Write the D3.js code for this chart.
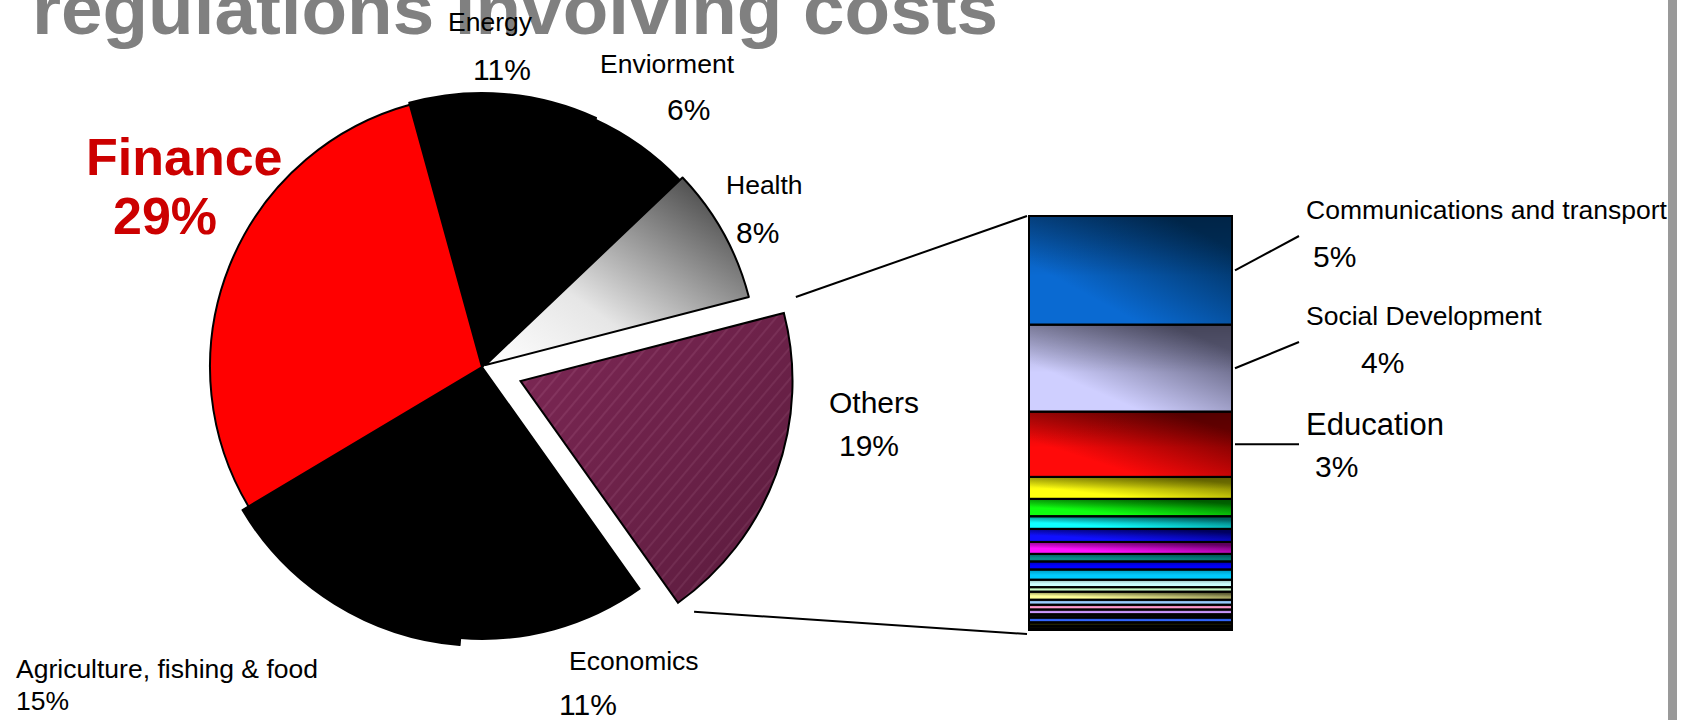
<!DOCTYPE html>
<html>
<head>
<meta charset="utf-8">
<script src="https://cdn.jsdelivr.net/npm/d3@7/dist/d3.min.js"></script>
<style>
  html, body { margin: 0; padding: 0; background: #ffffff; }
  svg { display: block; }
  text { font-family: "Liberation Sans", Arial, sans-serif; }
</style>
</head>
<body>
<svg id="chart" width="1682" height="720"></svg>
<script>
// Share of regulations involving costs, by policy area (%)
const pieLabels = ["Energy", "Enviorment", "Health", "Others", "Economics", "Agriculture, fishing & food", "Finance"];
const pieValues = [11, 6, 8, 19, 11, 15, 29];

// Breakdown of "Others" (%), top to bottom of the stacked column
const barLabels = ["Communications and transport", "Social Development", "Education"];
const barValues = [5, 4, 3, 1.01, 0.80, 0.58, 0.60, 0.55, 0.35, 0.37, 0.47, 0.34, 0.21, 0.37, 0.23, 0.22, 0.22, 0.15, 0.22, 0.17, 0.11, 0.07];

const titleText = "regulations involving costs";

// ---------- styles / layout ----------
const W = 1682, H = 720;
const svg = d3.select("#chart");
const defs = svg.append("defs");

const cx = 482, cy = 367, R = 272;
const startDeg = -15.4;
const explode = [0, 0, 4, 41, 0, 0, 0];          // px pulled out per slice
const extraR = [2, 0, 0, 0, 0, 7, 0];            // slight over-size per slice
const pieFill = ["#000000", "#000000", "url(#healthGrad)", "url(#othersHatch)", "#000000", "#000000", "#ff0000"];
const othersIndex = 3;

const barColors = [
  ["#0a6ad2", "#00305e"], ["#cfcfff", "#5c5c78"], ["#ff0a0a", "#700000"],
  ["#ffff10", "#7a7a00"], ["#10ff10", "#007000"], ["#10ffff", "#007070"],
  ["#1010ff", "#000070"], ["#ff10ff", "#700070"], ["#0a8a8a", "#006a6a"],
  ["#0000ff", "#0000f0"], ["#00ccff", "#00c8fa"], ["#ccffff", "#c8fafa"],
  ["#ccffcc", "#c8fac8"], ["#ffff99", "#6e6e40"], ["#99ccff", "#96c8fa"],
  ["#ff99cc", "#fa96c8"], ["#cc99ff", "#c896fa"], ["#111111", "#000000"],
  ["#3366ff", "#3064f8"], ["#222200", "#111100"], ["#333300", "#222200"],
  ["#111100", "#000000"]
];
const barX0 = 1029, barX1 = 1232, barTop = 216, barBottom = 630;
const labelStyle = { name: 26.5, pct: 30 };

// name / percent label positions for the pie (left x, baseline y)
const pieLabelPos = [
  { n: [448, 31], p: [473, 80] },
  { n: [600, 73], p: [667, 120] },
  { n: [726, 194], p: [736, 243] },
  { n: [829, 413], p: [839, 456], ns: 30 },
  { n: [569, 670], p: [559, 715] },
  { n: [16, 678], p: [16, 710], small: true },
  { n: [86, 175], p: [113, 234], finance: true }
];
// label anchors for the column breakdown
const barLabelPos = [
  { end: [1299, 236], n: [1306, 219], p: [1313, 267], ns: 26.5, ps: 30 },
  { end: [1299, 342], n: [1306, 325], p: [1361, 373], ns: 26.5, ps: 30 },
  { end: [1299, null], n: [1306, 435], p: [1315, 477], ns: 31, ps: 30 }
];

// ---------- gradients & patterns ----------
const hg = defs.append("linearGradient").attr("id", "healthGrad")
  .attr("x1", 0).attr("y1", 1).attr("x2", 1).attr("y2", 0);
hg.append("stop").attr("offset", 0).attr("stop-color", "#ffffff");
hg.append("stop").attr("offset", 0.35).attr("stop-color", "#e6e6e6");
hg.append("stop").attr("offset", 1).attr("stop-color", "#2e2e2e");

const og = defs.append("linearGradient").attr("id", "othersGrad")
  .attr("x1", 0).attr("y1", 0).attr("x2", 1).attr("y2", 1);
og.append("stop").attr("offset", 0).attr("stop-color", "#8e2e62");
og.append("stop").attr("offset", 1).attr("stop-color", "#461430");

const pat = defs.append("pattern").attr("id", "othersHatch")
  .attr("patternUnits", "userSpaceOnUse").attr("width", 10).attr("height", 10)
  .attr("patternTransform", "rotate(40)");
pat.append("rect").attr("width", 10).attr("height", 10).attr("fill", "#6e2249");
pat.append("line").attr("x1", 5).attr("y1", 0).attr("x2", 5).attr("y2", 10)
  .attr("stroke", "#e8b0cc").attr("stroke-opacity", 0.4).attr("stroke-width", 1);

const shade = defs.append("linearGradient").attr("id", "topShade")
  .attr("x1", 0).attr("y1", 0).attr("x2", 0).attr("y2", 1);
shade.append("stop").attr("offset", 0).attr("stop-color", "#000").attr("stop-opacity", 0.25);
shade.append("stop").attr("offset", 0.55).attr("stop-color", "#000").attr("stop-opacity", 0);

barColors.forEach((c, i) => {
  const g = defs.append("linearGradient").attr("id", "seg" + i)
    .attr("x1", 0).attr("y1", 1).attr("x2", 1).attr("y2", 0);
  g.append("stop").attr("offset", 0).attr("stop-color", c[0]);
  g.append("stop").attr("offset", 0.28).attr("stop-color", c[0]);
  g.append("stop").attr("offset", 0.85).attr("stop-color", c[1]);
  g.append("stop").attr("offset", 1).attr("stop-color", c[1]);
});

// ---------- title ----------
svg.append("text")
  .attr("x", 32).attr("y", 34)
  .attr("font-size", 72).attr("font-weight", "bold")
  .attr("fill", "#808080")
  .attr("textLength", 966).attr("lengthAdjust", "spacingAndGlyphs")
  .text(titleText);

// ---------- pie ----------
const toRad = Math.PI / 180;
const pie = d3.pie().sort(null).value(d => d)
  .startAngle(startDeg * toRad).endAngle(startDeg * toRad + 2 * Math.PI);
const arcs = pie(pieValues);
const arcFor = i => d3.arc().innerRadius(0).outerRadius(R + extraR[i]);

const pieG = svg.append("g").attr("transform", `translate(${cx},${cy})`);
const offsetOf = (a, i) => {
  const mid = (a.startAngle + a.endAngle) / 2;
  return [Math.sin(mid) * explode[i], -Math.cos(mid) * explode[i]];
};

arcs.forEach((a, i) => {
  const [dx, dy] = offsetOf(a, i);
  const d = arcFor(i)(a);
  const g = pieG.append("g").attr("transform", `translate(${dx},${dy})`);
  if (i === othersIndex) {
    g.append("path").attr("d", d).attr("fill", "url(#othersGrad)");
    g.append("path").attr("d", d).attr("fill", "url(#othersHatch)").attr("fill-opacity", 0.5);
    g.append("path").attr("d", d).attr("fill", "none").attr("stroke", "#000").attr("stroke-width", 2);
  } else {
    g.append("path").attr("d", d).attr("fill", pieFill[i])
      .attr("stroke", "#000").attr("stroke-width", 2).attr("stroke-linejoin", "round");
  }
});

// ---------- stacked column ----------
const total = d3.sum(barValues);
const y = d3.scaleLinear().domain([0, total]).range([barTop, barBottom]);
let acc = 0;
const segs = barValues.map((v, i) => { const s = { i, v, y0: acc, y1: acc + v }; acc += v; return s; });

const barG = svg.append("g");
barG.selectAll("rect.seg").data(segs).join("rect")
  .attr("class", "seg")
  .attr("x", barX0).attr("width", barX1 - barX0)
  .attr("y", d => y(d.y0)).attr("height", d => y(d.y1) - y(d.y0))
  .attr("fill", d => `url(#seg${d.i})`);
barG.selectAll("rect.shade").data(segs).join("rect")
  .attr("class", "shade")
  .attr("x", barX0).attr("width", barX1 - barX0)
  .attr("y", d => y(d.y0)).attr("height", d => y(d.y1) - y(d.y0))
  .attr("fill", "url(#topShade)");
barG.selectAll("rect.edge").data(segs).join("rect")
  .attr("class", "edge")
  .attr("x", barX0).attr("width", barX1 - barX0)
  .attr("y", d => y(d.y0)).attr("height", d => y(d.y1) - y(d.y0))
  .attr("fill", "none").attr("stroke", "#000").attr("stroke-width", 2);

// ---------- connector lines between pie and column ----------
const oa = arcs[othersIndex];
const [odx, ody] = offsetOf(oa, othersIndex);
const cornerTop = [cx + odx + Math.sin(oa.startAngle) * R, cy + ody - Math.cos(oa.startAngle) * R];
const cornerBot = [cx + odx + Math.sin(oa.endAngle) * R, cy + ody - Math.cos(oa.endAngle) * R];
const gapTop = [12, -16], gapBot = [16, 9];
svg.append("line")
  .attr("x1", cornerTop[0] + gapTop[0]).attr("y1", cornerTop[1] + gapTop[1])
  .attr("x2", barX0 - 2).attr("y2", y(0))
  .attr("stroke", "#000").attr("stroke-width", 2);
svg.append("line")
  .attr("x1", cornerBot[0] + gapBot[0]).attr("y1", cornerBot[1] + gapBot[1])
  .attr("x2", barX0 - 2).attr("y2", y(total) + 4)
  .attr("stroke", "#000").attr("stroke-width", 2);

// ---------- pie labels ----------
const labG = svg.append("g");
pieLabels.forEach((name, i) => {
  const p = pieLabelPos[i];
  const pct = pieValues[i] + "%";
  if (p.finance) {
    labG.append("text").attr("x", p.n[0]).attr("y", p.n[1])
      .attr("font-size", 52).attr("font-weight", "bold").attr("fill", "#cc0000").text(name);
    labG.append("text").attr("x", p.p[0]).attr("y", p.p[1])
      .attr("font-size", 52).attr("font-weight", "bold").attr("fill", "#cc0000").text(pct);
    return;
  }
  labG.append("text").attr("x", p.n[0]).attr("y", p.n[1])
    .attr("font-size", p.ns || labelStyle.name).attr("fill", "#000").text(name);
  labG.append("text").attr("x", p.p[0]).attr("y", p.p[1])
    .attr("font-size", p.small ? labelStyle.name : labelStyle.pct).attr("fill", "#000").text(pct);
});

// ---------- column labels with leader lines ----------
barLabels.forEach((name, i) => {
  const s = segs[i];
  const p = barLabelPos[i];
  const midY = (y(s.y0) + y(s.y1)) / 2;
  svg.append("line")
    .attr("x1", barX1 + 3).attr("y1", midY)
    .attr("x2", p.end[0]).attr("y2", p.end[1] == null ? midY : p.end[1])
    .attr("stroke", "#000").attr("stroke-width", 2);
  svg.append("text").attr("x", p.n[0]).attr("y", p.n[1])
    .attr("font-size", p.ns).attr("fill", "#000").text(name);
  svg.append("text").attr("x", p.p[0]).attr("y", p.p[1])
    .attr("font-size", p.ps).attr("fill", "#000").text(barValues[i] + "%");
});

// slide edge on the right
svg.append("rect").attr("x", 1668).attr("y", 0).attr("width", 9).attr("height", H).attr("fill", "#999999");
</script>
</body>
</html>
